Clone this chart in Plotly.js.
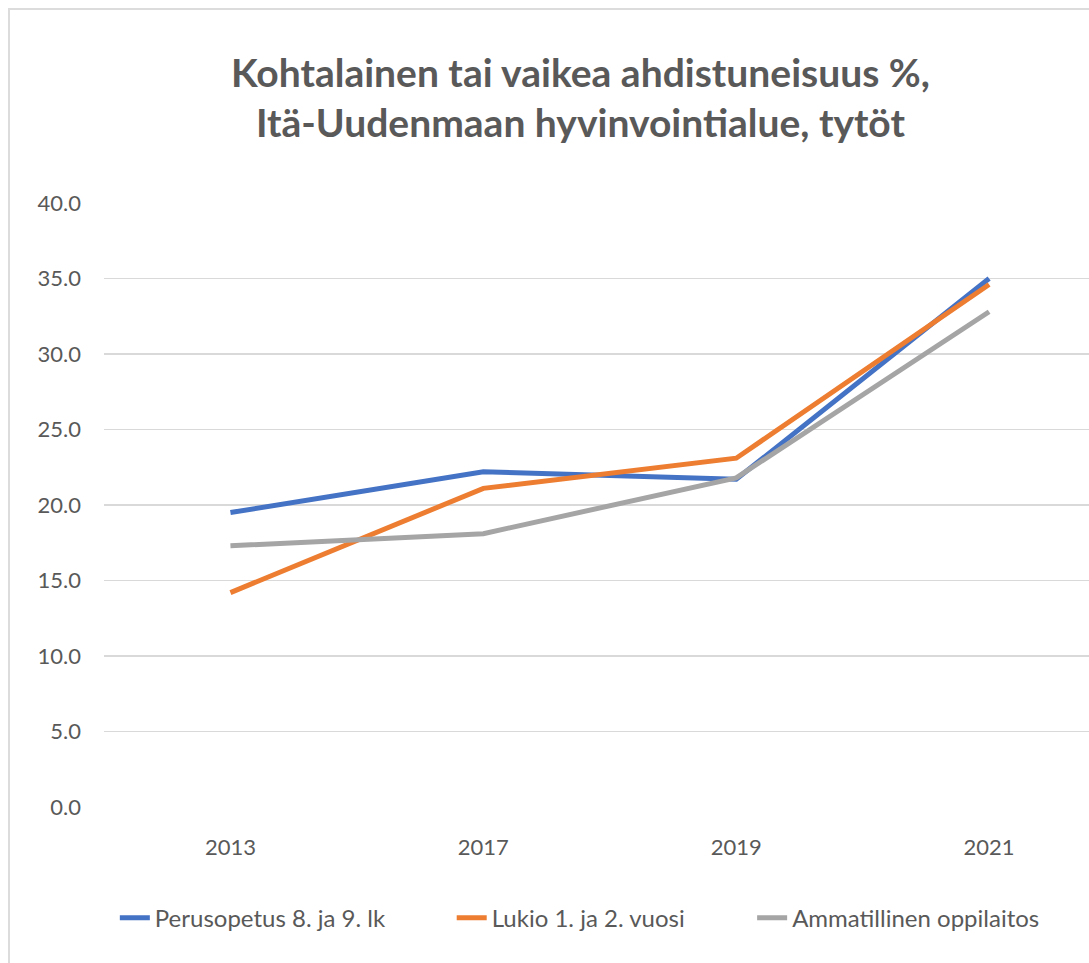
<!DOCTYPE html>
<html>
<head>
<meta charset="utf-8">
<script src="https://cdn.plot.ly/plotly-3.0.1.min.js"></script>
<style>
html,body{margin:0;padding:0;background:#fff;}
#frame{position:absolute;left:8px;top:8px;width:1200px;height:1100px;border:2px solid #dcdcdc;box-sizing:border-box;}
#chart{position:absolute;left:0;top:0;width:1089px;height:963px;}
</style>
</head>
<body>
<div id="frame"></div>
<div id="chart"></div>
<script>
const years = ['2013', '2017', '2019', '2021'];
const perusopetus = [19.5, 22.2, 21.7, 35.0];
const lukio = [14.2, 21.1, 23.1, 34.6];
const ammatillinen = [17.3, 18.1, 21.8, 32.8];
const seriesNames = ['Perusopetus 8. ja 9. lk', 'Lukio 1. ja 2. vuosi', 'Ammatillinen oppilaitos'];
const yTicks = [0, 5, 10, 15, 20, 25, 30, 35, 40];

const fam = 'Lato, "DejaVu Sans", sans-serif';
const f = (size, extra) => Object.assign({family: fam, size: size, color: '#595959'}, extra || {});
const colors = ['#4472C4', '#ED7D31', '#A5A5A5'];
const legendIds = ['legend', 'legend2', 'legend3'];
const data = [perusopetus, lukio, ammatillinen].map((v, i) => ({
  x: years, y: v, name: seriesNames[i], type: 'scatter', mode: 'lines',
  line: {color: colors[i], width: 5}, legend: legendIds[i]
}));

const legBase = {orientation: 'h', y: -0.184, yanchor: 'middle', xanchor: 'left',
  font: f(24), bgcolor: 'rgba(0,0,0,0)'};

const layout = {
  width: 1089, height: 963,
  margin: {l: 103.5, r: 0, t: 203, b: 156},
  paper_bgcolor: 'rgba(0,0,0,0)', plot_bgcolor: 'rgba(0,0,0,0)',
  font: f(20),
  title: {
    text: 'Kohtalainen tai vaikea ahdistuneisuus %,<br>Itä-Uudenmaan hyvinvointialue, tytöt',
    font: f(39, {weight: 'bold'}),
    x: 0.533, xanchor: 'center', yref: 'container', y: 0.91, yanchor: 'top'
  },
  xaxis: {
    type: 'category', range: [-0.5, 3.395], showgrid: false, zeroline: false,
    showline: false, ticks: '', ticklabelstandoff: 25,
    tickfont: f(22), fixedrange: true
  },
  yaxis: {
    range: [0, 40], tickvals: yTicks, ticktext: yTicks.map(v => v.toFixed(1)),
    showgrid: true, gridcolor: '#d9d9d9', gridwidth: 1.5, zeroline: false,
    showline: false, ticks: '', ticklabelstandoff: 22,
    tickfont: f(22), fixedrange: true
  },
  showlegend: true,
  legend: Object.assign({}, legBase, {x: 0.011}),
  legend2: Object.assign({}, legBase, {x: 0.353}),
  legend3: Object.assign({}, legBase, {x: 0.658})
};
Plotly.newPlot('chart', data, layout, {displayModeBar: false, staticPlot: true});
</script>
</body>
</html>
